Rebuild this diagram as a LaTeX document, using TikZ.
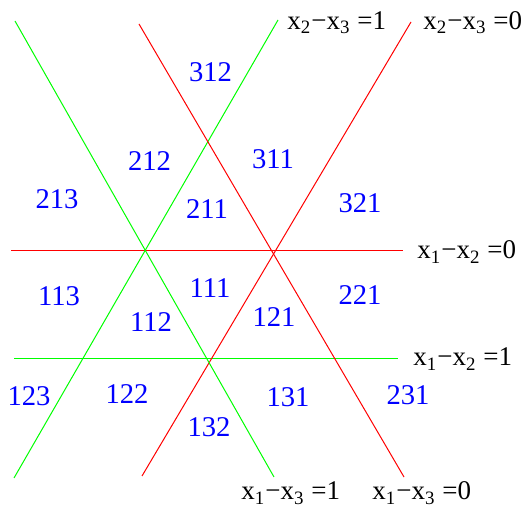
\documentclass[tikz,border=0pt]{standalone}
\usepackage{fontspec}
\setmainfont{Liberation Serif}
\usetikzlibrary{positioning}

\begin{document}
\begin{tikzpicture}[
    x=0.5pt, y=-0.5pt,
    font=\fontsize{13.5}{16}\selectfont,
    wall/.style={line width=0.5pt},
    redwall/.style={wall, draw=red},
    greenwall/.style={wall, draw=green},
    region/.style={text=blue, inner sep=0pt, font=\fontsize{14.3}{17}\selectfont},
    eqn/.style={inner sep=0pt, anchor=base west}
]

\useasboundingbox (0,0) rectangle (526,508);

% --- end points of the six hyperplanes ---
\coordinate (h0w) at (11,251);   \coordinate (h0e) at (403,251);
\coordinate (h1w) at (14,359);   \coordinate (h1e) at (398,359);
\coordinate (a1n) at (278,20);   \coordinate (a1s) at (14,478);
\coordinate (a0n) at (411,22);   \coordinate (a0s) at (142,476);
\coordinate (b1n) at (15,21);    \coordinate (b1s) at (274,477);
\coordinate (b0n) at (139,24);   \coordinate (b0s) at (404,477);

% --- hyperplanes: red for =0, green for =1 ---
\draw[redwall]   (h0w) -- (h0e);
\draw[greenwall] (h1w) -- (h1e);
\draw[greenwall] (a1n) -- (a1s);
\draw[redwall]   (a0n) -- (a0s);
\draw[greenwall] (b1n) -- (b1s);
\draw[redwall]   (b0n) -- (b0s);

% --- equations at the line ends ---
\node[eqn] (ea1) at (287,29.5) {x\textsubscript{2}−x\textsubscript{3} =1};
\node[eqn] (ea0) at (423,29.5) {x\textsubscript{2}−x\textsubscript{3} =0};
\node[eqn] (eh0) at (417,259)  {x\textsubscript{1}−x\textsubscript{2} =0};
\node[eqn] (eh1) at (413,366)  {x\textsubscript{1}−x\textsubscript{2} =1};
\node[eqn] (eb1) at (241,500)  {x\textsubscript{1}−x\textsubscript{3} =1};
\node[eqn] (eb0) at (372,500)  {x\textsubscript{1}−x\textsubscript{3} =0};

% --- regions ---
\node[region] (r312) at (210.5,72.5) {312};
\node[region] (r212) at (149.5,161)  {212};
\node[region] (r311) at (273,159)    {311};
\node[region] (r213) at (57,199.5)   {213};
\node[region] (r211) at (207,209)    {211};
\node[region] (r321) at (360,203)    {321};
\node[region] (r113) at (59,296)     {113};
\node[region] (r111) at (210,288.5)  {111};
\node[region] (r221) at (360,295.5)  {221};
\node[region] (r112) at (151,322)    {112};
\node[region] (r121) at (274,317.5)  {121};
\node[region] (r123) at (29,396)     {123};
\node[region] (r122) at (127,394.5)  {122};
\node[region] (r131) at (288,397)    {131};
\node[region] (r231) at (408,395.5)  {231};
\node[region] (r132) at (209,427)    {132};

\end{tikzpicture}
\end{document}
